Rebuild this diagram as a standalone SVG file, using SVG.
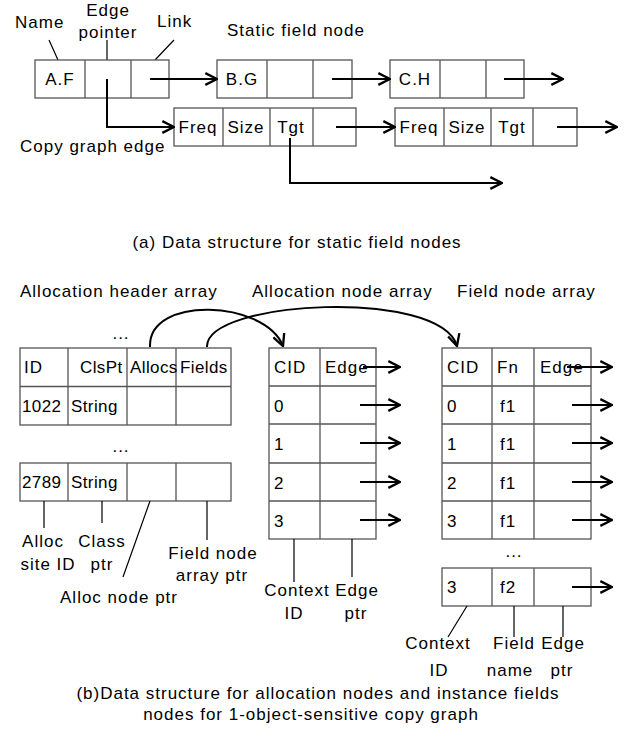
<svg xmlns="http://www.w3.org/2000/svg" width="624" height="738" viewBox="0 0 624 738">
<defs>
<marker id="ah" markerUnits="userSpaceOnUse" markerWidth="14" markerHeight="14" viewBox="0 0 12 12" refX="11" refY="6" orient="auto">
<path d="M1,1 L11,6 L1,11" fill="none" stroke="#000" stroke-width="2"/>
</marker>
<style>
text{font-family:"Liberation Sans",Arial,sans-serif;font-size:17px;letter-spacing:1px;fill:#000}
.m{text-anchor:middle}
.t{letter-spacing:0.4px}
.cell{fill:#fff;stroke:#555;stroke-width:1.3}
.div{stroke:#555;stroke-width:1.3;fill:none}
.ar{stroke:#000;stroke-width:2;fill:none;marker-end:url(#ah)}
.ld{stroke:#000;stroke-width:1.2;fill:none}
</style>
</defs>
<rect width="624" height="738" fill="#fff"/>

<g id="labels-a">
<text x="15" y="28">Name</text>
<text class="m" x="108" y="16">Edge</text>
<text class="m" x="108" y="38">pointer</text>
<text x="157" y="27">Link</text>
<text x="227" y="36">Static field node</text>
<text x="20" y="152">Copy graph edge</text>
<path class="ld" d="M49,40 L58,60 M107,40 V60 M174,40 L155,60"/>
</g>

<g id="node-AF">
<rect class="cell" x="35" y="60" width="134" height="38"/>
<path class="div" d="M85,60 V98 M131,60 V98"/>
<text class="m" x="60" y="85">A.F</text>
</g>
<g id="node-BG">
<rect class="cell" x="217" y="60" width="135" height="38"/>
<path class="div" d="M267,60 V98 M313,60 V98"/>
<text class="m" x="242" y="85">B.G</text>
</g>
<g id="node-CH">
<rect class="cell" x="390" y="60" width="134" height="38"/>
<path class="div" d="M440,60 V98 M486,60 V98"/>
<text class="m" x="415" y="85">C.H</text>
</g>
<g id="edge-1">
<rect class="cell" x="174" y="108" width="182" height="38"/>
<path class="div" d="M223,108 V146 M270,108 V146 M313,108 V146"/>
<text class="m" x="198" y="133">Freq</text>
<text class="m" x="246" y="133">Size</text>
<text class="m" x="291" y="133">Tgt</text>
</g>
<g id="edge-2">
<rect class="cell" x="395" y="108" width="182" height="38"/>
<path class="div" d="M444,108 V146 M491,108 V146 M533,108 V146"/>
<text class="m" x="419" y="133">Freq</text>
<text class="m" x="467" y="133">Size</text>
<text class="m" x="512" y="133">Tgt</text>
</g>

<g id="connectors-a">
<path class="ar" d="M150,79 H217"/>
<path class="ar" d="M332,79 H390"/>
<path class="ar" d="M504,79 H563"/>
<path class="ar" d="M107,79 V127 H174"/>
<path class="ar" d="M336,127 H395"/>
<path class="ar" d="M557,127 H617"/>
<path class="ar" d="M290,138 V183 H502"/>
</g>

<text class="m" x="297" y="248">(a) Data structure for static field nodes</text>

<g id="labels-b">
<text x="20" y="297">Allocation header array</text>
<text x="252" y="297">Allocation node array</text>
<text x="457" y="297">Field node array</text>
<text class="m" x="121" y="339">...</text>
<text class="m" x="121" y="452">...</text>
<text class="m" x="514" y="557">...</text>
</g>

<g id="header-table">
<rect class="cell" x="20" y="348" width="211" height="77"/>
<path class="div" d="M20,386.5 H231 M68,348 V425 M127,348 V425 M176,348 V425"/>
<text x="24" y="373">ID</text>
<text class="t" x="80" y="373">ClsPt</text>
<text class="t" x="130" y="373">Allocs</text>
<text class="t" x="180" y="373">Fields</text>
<text class="t" x="22" y="412">1022</text>
<text class="t" x="71" y="412">String</text>
</g>

<g id="header-2789">
<rect class="cell" x="20" y="463" width="211" height="38"/>
<path class="div" d="M68,463 V501 M127,463 V501 M176,463 V501"/>
<text class="t" x="22" y="488">2789</text>
<text class="t" x="71" y="488">String</text>
<path class="ld" d="M44,501 V528 M102,501 V523 M150,501 L123,577 M207,501 V540"/>
<text class="m" x="43" y="547">Alloc</text>
<text class="m" x="48" y="570">site ID</text>
<text class="m" x="102" y="547">Class</text>
<text class="m" x="102" y="570">ptr</text>
<text class="m" x="213" y="559">Field node</text>
<text class="m" x="212" y="581">array ptr</text>
<text class="m" x="119" y="603">Alloc node ptr</text>
</g>

<g id="alloc-node-array">
<rect class="cell" x="269" y="348" width="107" height="191"/>
<path class="div" d="M320,348 V539 M269,386 H376 M269,424 H376 M269,463 H376 M269,501 H376"/>
<text x="274" y="373">CID</text>
<text x="325" y="373">Edge</text>
<text x="274" y="412">0</text>
<text x="274" y="450">1</text>
<text x="274" y="489">2</text>
<text x="274" y="527">3</text>
<path class="ld" d="M294,539 V582 M352,539 V577"/>
<text class="m" x="297" y="596">Context</text>
<text class="m" x="294" y="619">ID</text>
<text class="m" x="357" y="596">Edge</text>
<text class="m" x="356" y="619">ptr</text>
</g>

<g id="field-node-array">
<rect class="cell" x="442" y="348" width="149" height="191"/>
<path class="div" d="M492,348 V539 M534,348 V539 M442,386 H591 M442,424 H591 M442,463 H591 M442,501 H591"/>
<text x="447" y="373">CID</text>
<text x="497" y="373">Fn</text>
<text x="540" y="373">Edge</text>
<text x="447" y="412">0</text><text x="500" y="412">f1</text>
<text x="447" y="450">1</text><text x="500" y="450">f1</text>
<text x="447" y="489">2</text><text x="500" y="489">f1</text>
<text x="447" y="527">3</text><text x="500" y="527">f1</text>
</g>

<g id="field-node-f2">
<rect class="cell" x="442" y="568" width="149" height="38"/>
<path class="div" d="M492,568 V606 M534,568 V606"/>
<text x="447" y="593">3</text>
<text x="500" y="593">f2</text>
<path class="ld" d="M467,606 L448,637 M514,606 V637 M563,606 V637"/>
<text class="m" x="438" y="649">Context</text>
<text class="m" x="439" y="676">ID</text>
<text class="m" x="514" y="649">Field</text>
<text class="m" x="510" y="676">name</text>
<text class="m" x="563" y="649">Edge</text>
<text class="m" x="562" y="676">ptr</text>
</g>

<g id="connectors-b">
<path class="ar" d="M150,347 C148,295 265,300 283,346"/>
<path class="ar" d="M207,347 C205,300 440,288 457,346"/>
<path class="ar" d="M363,367 H400"/>
<path class="ar" d="M360,405 H400"/>
<path class="ar" d="M360,443 H400"/>
<path class="ar" d="M360,482 H400"/>
<path class="ar" d="M360,520 H400"/>
<path class="ar" d="M567,367 H612"/>
<path class="ar" d="M572,405 H612"/>
<path class="ar" d="M572,443 H612"/>
<path class="ar" d="M572,482 H612"/>
<path class="ar" d="M572,520 H612"/>
<path class="ar" d="M572,587 H612"/>
</g>

<text class="m" x="318" y="699">(b)Data structure for allocation nodes and instance fields</text>
<text class="m" x="311" y="720">nodes for 1-object-sensitive copy graph</text>
</svg>
